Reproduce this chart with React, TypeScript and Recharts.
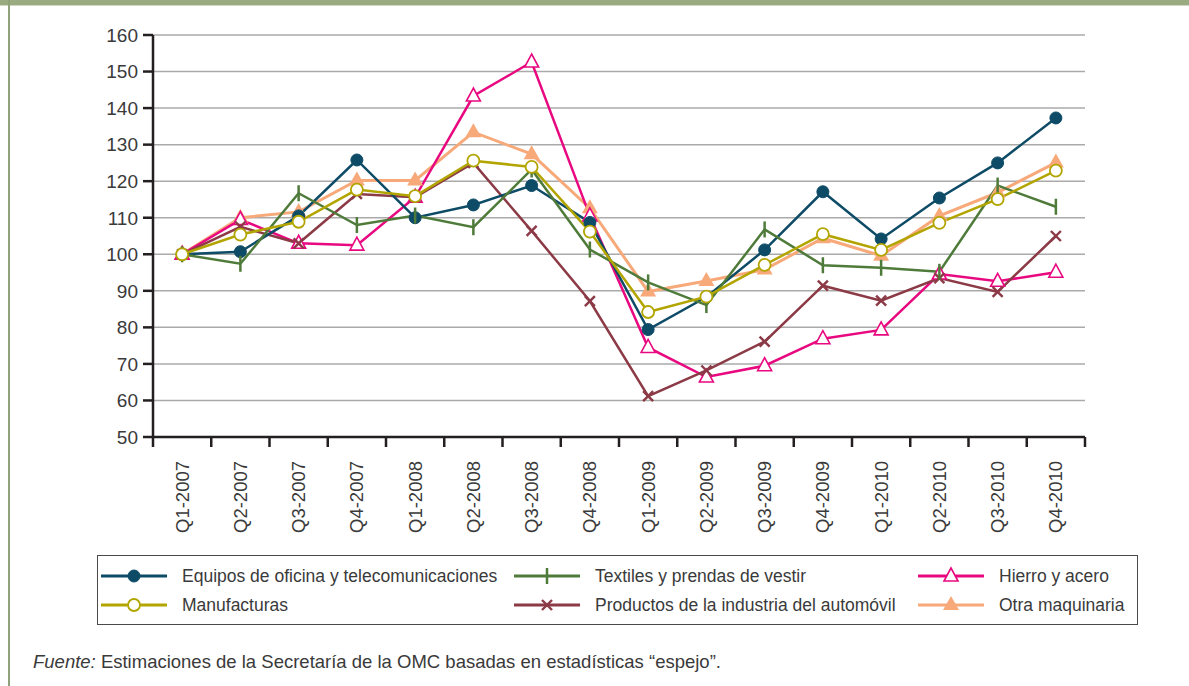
import React from 'react';
import { LineChart, Line, XAxis, YAxis, CartesianGrid } from 'recharts';

const quarters = [
  'Q1-2007', 'Q2-2007', 'Q3-2007', 'Q4-2007',
  'Q1-2008', 'Q2-2008', 'Q3-2008', 'Q4-2008',
  'Q1-2009', 'Q2-2009', 'Q3-2009', 'Q4-2009',
  'Q1-2010', 'Q2-2010', 'Q3-2010', 'Q4-2010',
];

const equipos = [100, 100.7, 110.5, 125.8, 110, 113.5, 118.8, 108.7, 79.4, 88.3, 101.2, 117.1, 104.2, 115.4, 125, 137.3];
const textiles = [100, 97.4, 116.7, 108, 110.6, 107.4, 123.2, 101.3, 92.3, 86.1, 106.8, 97, 96.3, 95.2, 118.8, 113];
const hierro = [100, 109.5, 103, 102.5, 115.6, 143.3, 152.6, 110.5, 74.5, 66.4, 69.5, 76.9, 79.3, 94.6, 92.6, 95.1];
const manufacturas = [100, 105.4, 108.9, 117.7, 115.9, 125.6, 123.9, 106.2, 84.2, 88.4, 97.1, 105.5, 101.2, 108.6, 115.1, 122.9];
const automovil = [100, 107.5, 103, 116.5, 115.6, 125, 106.4, 87.2, 61.2, 68.2, 76.1, 91.4, 87.3, 93.5, 89.7, 105];
const otra = [100, 110, 111.6, 120.2, 120.2, 133.4, 127.4, 112.6, 89.8, 92.7, 95.8, 104.4, 99.6, 110.5, 116.9, 125.1];

const yTicks = [50, 60, 70, 80, 90, 100, 110, 120, 130, 140, 150, 160];

const C = {
  equipos: '#0d4b66',
  textiles: '#4f7b3a',
  hierro: '#e8087f',
  manufacturas: '#b3a500',
  automovil: '#8b3a46',
  otra: '#f7a97a',
};

const data = quarters.map((q, i) => ({
  q,
  equipos: equipos[i],
  textiles: textiles[i],
  hierro: hierro[i],
  manufacturas: manufacturas[i],
  automovil: automovil[i],
  otra: otra[i],
}));

const FONT = '"Liberation Sans", Arial, Helvetica, sans-serif';
const TEXT = '#3a3a3a';
const AXIS = '#231f20';

// marker shapes
const mk = (kind: string, color: string) => (p: any) => {
  const { cx, cy, index } = p;
  if (cx == null || cy == null) return <g key={`n-${index}`} />;
  const k = `${kind}-${index}`;
  switch (kind) {
    case 'circle':
      return <circle key={k} cx={cx} cy={cy} r={6} fill={color} stroke={color} />;
    case 'hollow':
      return <circle key={k} cx={cx} cy={cy} r={6} fill="#fff" stroke={color} strokeWidth={1.8} />;
    case 'bar':
      return <line key={k} x1={cx} y1={cy - 8} x2={cx} y2={cy + 8} stroke={color} strokeWidth={2.5} />;
    case 'tri':
      return (
        <polygon key={k} points={`${cx},${cy - 8} ${cx - 7},${cy + 5} ${cx + 7},${cy + 5}`}
          fill="#fff" stroke={color} strokeWidth={1.6} />
      );
    case 'x':
      return (
        <g key={k} stroke={color} strokeWidth={2.4}>
          <line x1={cx - 5} y1={cy - 5} x2={cx + 5} y2={cy + 5} />
          <line x1={cx - 5} y1={cy + 5} x2={cx + 5} y2={cy - 5} />
        </g>
      );
    default:
      return (
        <polygon key={k} points={`${cx},${cy - 9} ${cx - 8},${cy + 5} ${cx + 8},${cy + 5}`} fill={color} />
      );
  }
};

const QuarterTick = (p: any) => {
  const { x, y, payload, index } = p;
  const off = payload?.offset ?? 29;
  const last = index === quarters.length - 1;
  return (
    <g>
      <line x1={x - off} y1={y} x2={x - off} y2={y + 10} stroke={AXIS} strokeWidth={2.5} />
      {last && <line x1={x + off} y1={y} x2={x + off} y2={y + 10} stroke={AXIS} strokeWidth={2.5} />}
      <text
        transform={`translate(${x},${y + 24}) rotate(-90)`}
        textAnchor="end"
        dy="0.35em"
        style={{ fontSize: 18.5, fontFamily: FONT, fill: TEXT }}
      >
        {payload.value}
      </text>
    </g>
  );
};

const ValueTick = (p: any) => {
  const { x, y, payload } = p;
  return (
    <text x={x} y={y} dy="0.36em" textAnchor="end" style={{ fontSize: 19, fontFamily: FONT, fill: TEXT }}>
      {payload.value}
    </text>
  );
};

const legendItems = [
  { label: 'Equipos de oficina y telecomunicaciones', color: C.equipos, kind: 'circle', col: 0, row: 0 },
  { label: 'Textiles y prendas de vestir', color: C.textiles, kind: 'bar', col: 1, row: 0 },
  { label: 'Hierro y acero', color: C.hierro, kind: 'tri', col: 2, row: 0 },
  { label: 'Manufacturas', color: C.manufacturas, kind: 'hollow', col: 0, row: 1 },
  { label: 'Productos de la industria del automóvil', color: C.automovil, kind: 'x', col: 1, row: 1 },
  { label: 'Otra maquinaria', color: C.otra, kind: 'fill', col: 2, row: 1 },
];
const colX = [100, 513, 917];

function LegendBox() {
  return (
    <div
      style={{
        position: 'absolute', left: 97, top: 555, width: 1041, height: 70,
        border: '1px solid #4a4a4a', boxSizing: 'border-box',
      }}
    >
      {legendItems.map(it => {
        const top = it.row === 0 ? 8 : 37;
        const left = colX[it.col] - 97;
        return (
          <div key={it.label} style={{ position: 'absolute', left, top, height: 24, display: 'flex', alignItems: 'center' }}>
            <svg width={68} height={24} style={{ display: 'block' }}>
              <line x1={0} y1={12} x2={66} y2={12} stroke={it.color} strokeWidth={3} />
              {mk(it.kind, it.color)({ cx: 33, cy: 12, index: 0 })}
            </svg>
            <span style={{ marginLeft: 13, fontFamily: FONT, fontSize: 17.5, color: TEXT, whiteSpace: 'nowrap' }}>
              {it.label}
            </span>
          </div>
        );
      })}
    </div>
  );
}

export default function App() {
  return (
    <div style={{ position: 'absolute', left: 0, top: 0, width: 1189, height: 686, background: '#fff', overflow: 'hidden' }}>
      {/* frame */}
      <div style={{ position: 'absolute', left: 0, top: 0, width: 1189, height: 5, background: '#9bab81' }} />
      <div style={{ position: 'absolute', left: 0, top: 5, width: 1189, height: 1, background: '#cfd7c3' }} />
      <div style={{ position: 'absolute', left: 8, top: 0, width: 2, height: 686, background: '#8fa27a' }} />

      <div style={{ position: 'absolute', left: 0, top: 0 }}>
        <LineChart width={1189} height={540} data={data} margin={{ top: 35, right: 104, left: 0, bottom: 0 }}>
          <CartesianGrid vertical={false} stroke="#aaaaaa" strokeWidth={1.5} />
          <XAxis
            dataKey="q"
            scale="band"
            interval={0}
            height={103}
            tickLine={false}
            tickSize={0}
            tickMargin={0}
            axisLine={{ stroke: AXIS, strokeWidth: 2.5 }}
            tick={<QuarterTick />}
          />
          <YAxis
            width={153}
            domain={[50, 160]}
            ticks={yTicks}
            interval={0}
            tickSize={10}
            tickMargin={5}
            axisLine={{ stroke: AXIS, strokeWidth: 2.5 }}
            tickLine={{ stroke: AXIS, strokeWidth: 2.5 }}
            tick={<ValueTick />}
          />
          <Line dataKey="otra" stroke={C.otra} strokeWidth={3} dot={mk('fill', C.otra)} isAnimationActive={false} />
          <Line dataKey="hierro" stroke={C.hierro} strokeWidth={2.5} dot={mk('tri', C.hierro)} isAnimationActive={false} />
          <Line dataKey="automovil" stroke={C.automovil} strokeWidth={2.5} dot={mk('x', C.automovil)} isAnimationActive={false} />
          <Line dataKey="equipos" stroke={C.equipos} strokeWidth={2.5} dot={mk('circle', C.equipos)} isAnimationActive={false} />
          <Line dataKey="textiles" stroke={C.textiles} strokeWidth={2.5} dot={mk('bar', C.textiles)} isAnimationActive={false} />
          <Line dataKey="manufacturas" stroke={C.manufacturas} strokeWidth={2.5} dot={mk('hollow', C.manufacturas)} isAnimationActive={false} />
        </LineChart>
      </div>

      <LegendBox />

      <div style={{ position: 'absolute', left: 33, top: 651, fontFamily: FONT, fontSize: 18.5, color: TEXT, whiteSpace: 'nowrap' }}>
        <i>Fuente:</i> Estimaciones de la Secretaría de la OMC basadas en estadísticas “espejo”.
      </div>
    </div>
  );
}
